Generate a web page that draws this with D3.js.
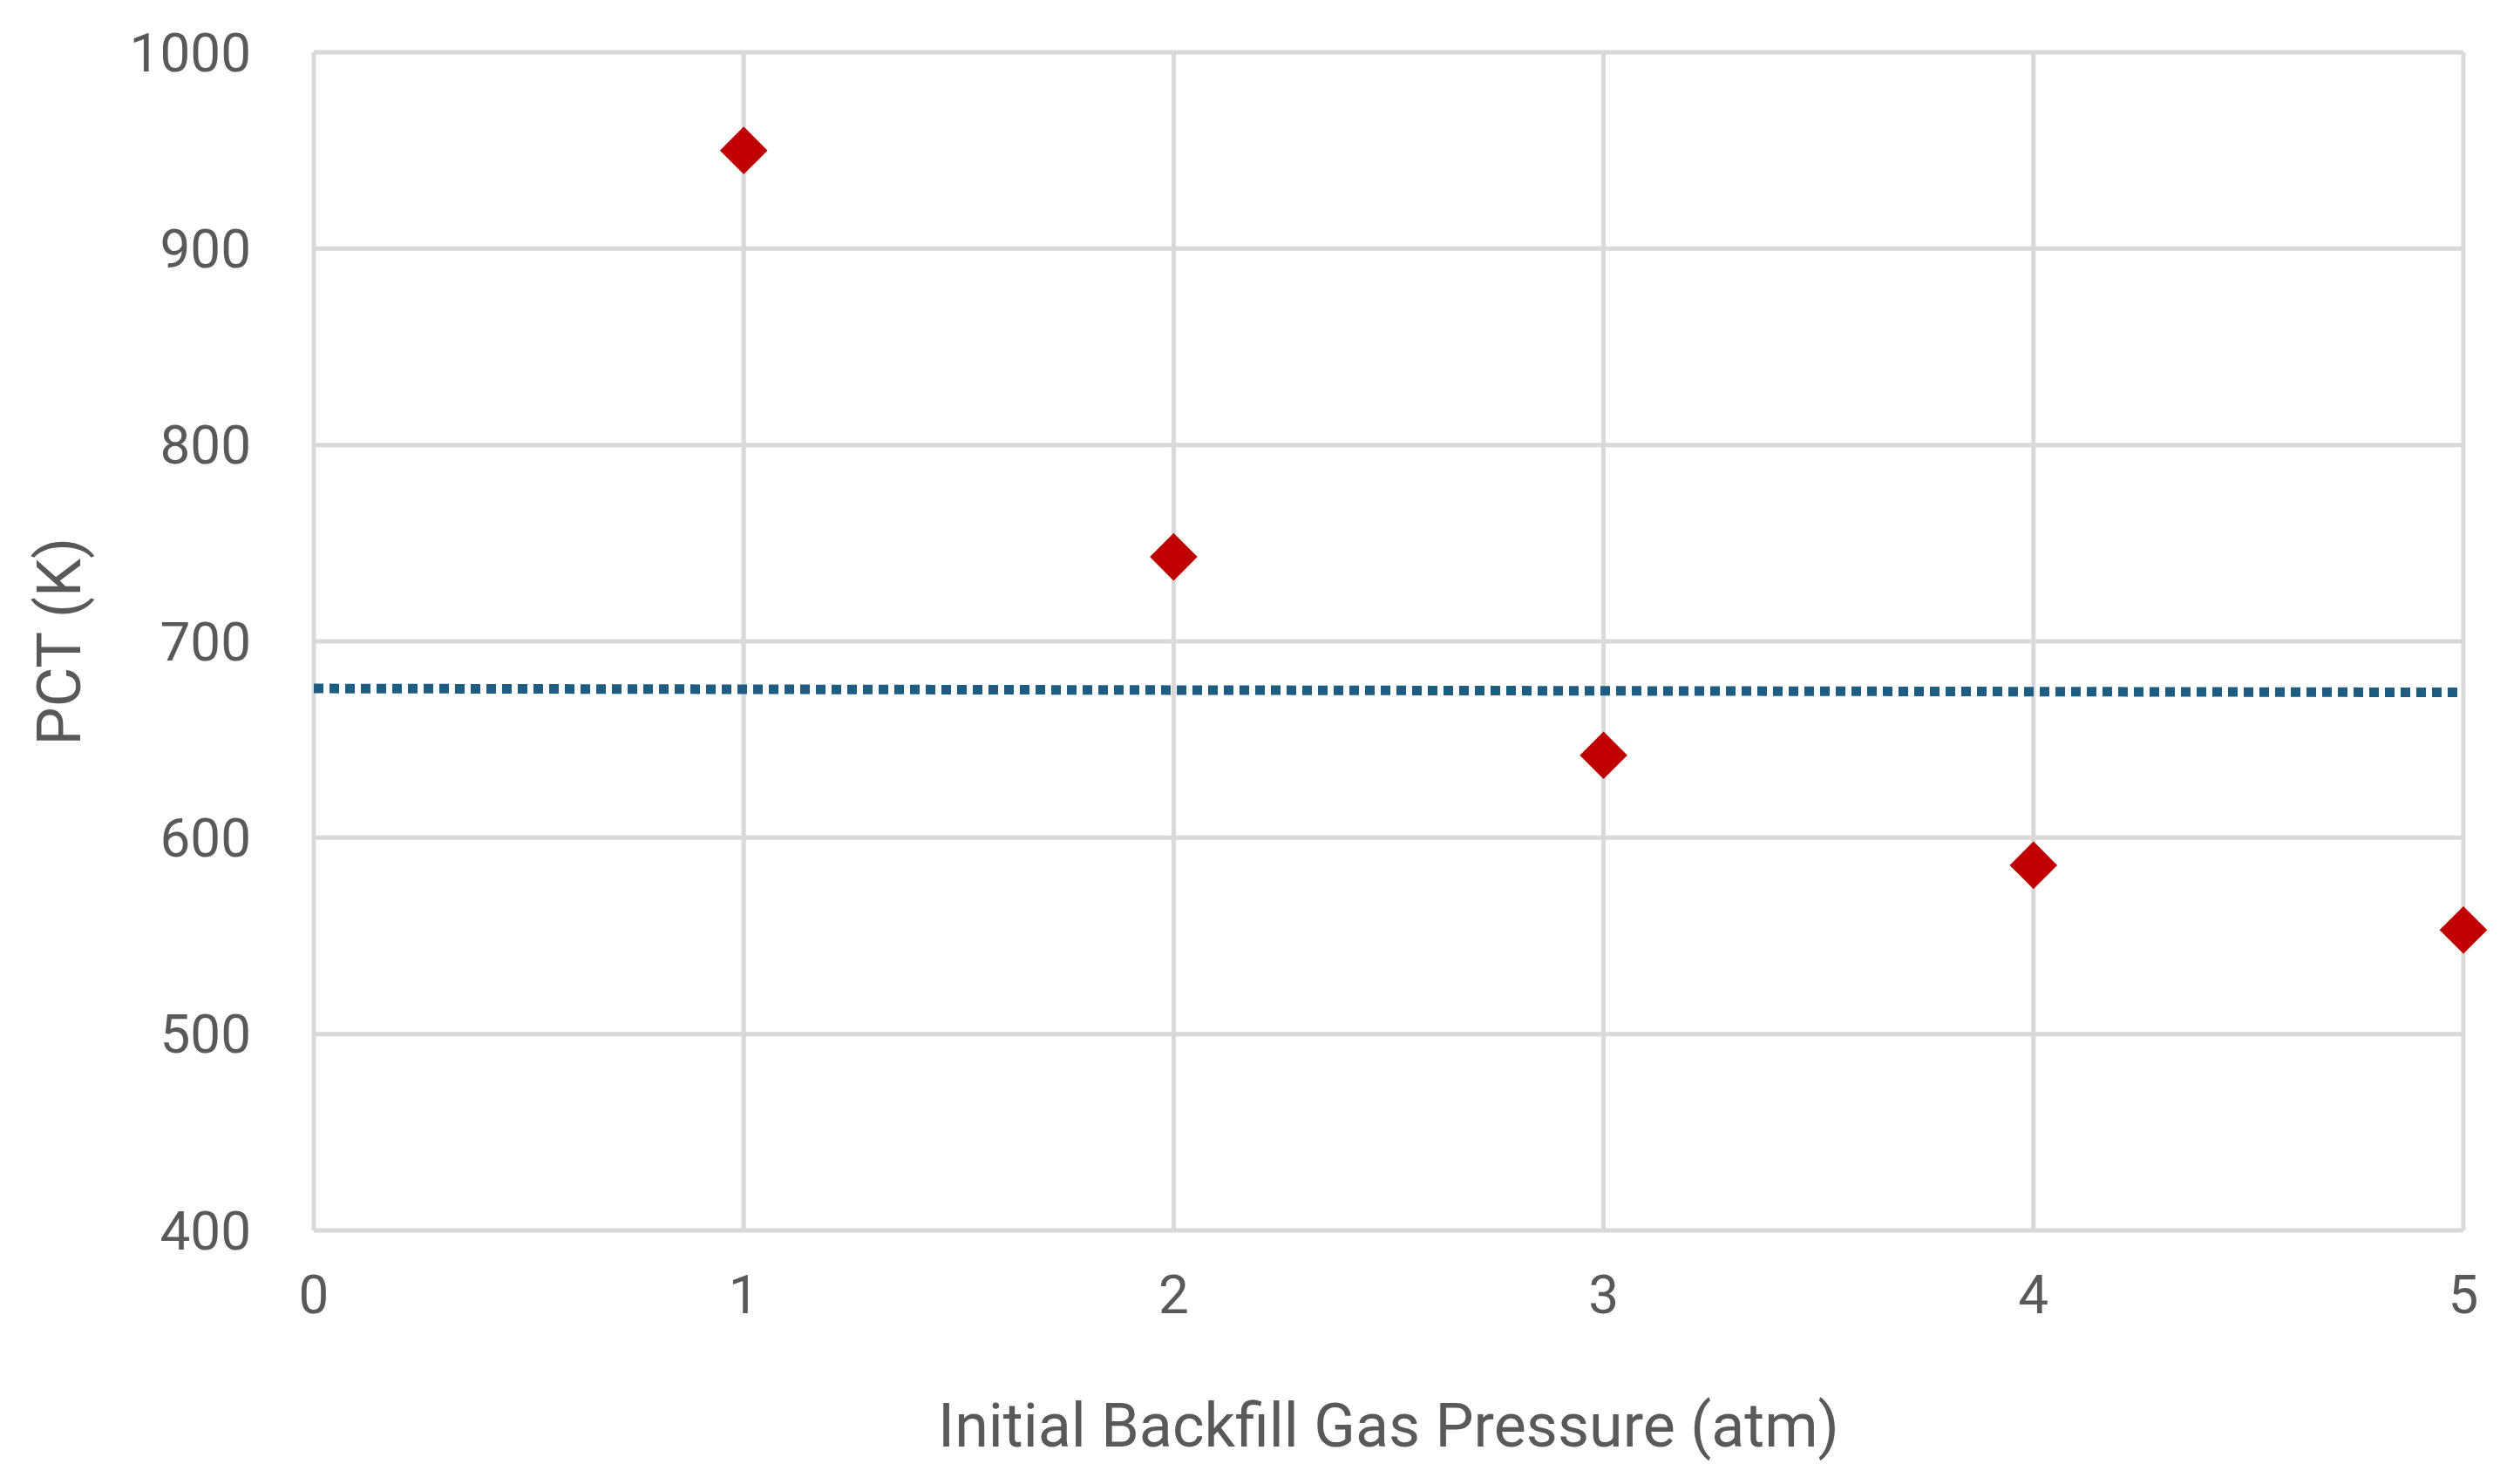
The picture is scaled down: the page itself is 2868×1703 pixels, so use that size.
<!DOCTYPE html>
<html><head><meta charset="utf-8">
<script src="https://cdn.jsdelivr.net/npm/d3@7"></script>
<style>body{margin:0;background:#fff}text{font-family:Roboto,"Open Sans",sans-serif;fill:#595959}</style>
</head><body><svg id="chart"></svg>
<script>
const W = 2868, H = 1703;
const pressure = [1, 2, 3, 4, 5];
const pct = [950, 743, 642, 586, 553];
const limitX = [0, 5];
const limitY = [676, 674];
const xTicks = [0, 1, 2, 3, 4, 5];
const yTicks = [400, 500, 600, 700, 800, 900, 1000];

const margin = {left: 360, right: 42, top: 60, bottom: 291};
const svg = d3.select('#chart').attr('width', W).attr('height', H);
const x = d3.scaleLinear().domain([0, 5]).range([margin.left, W - margin.right]);
const y = d3.scaleLinear().domain([400, 1000]).range([H - margin.bottom, margin.top]);

// grid
svg.append('g').selectAll('line').data(yTicks).join('line')
    .attr('x1', x(0)).attr('x2', x(5))
    .attr('y1', d => y(d)).attr('y2', d => y(d))
    .attr('stroke', '#d9d9d9').attr('stroke-width', 5);
svg.append('g').selectAll('line').data(xTicks).join('line')
    .attr('y1', y(400)).attr('y2', y(1000))
    .attr('x1', d => x(d)).attr('x2', d => x(d))
    .attr('stroke', '#d9d9d9').attr('stroke-width', 5);

// tick labels
svg.append('g').selectAll('text').data(yTicks).join('text')
    .attr('x', x(0) - 72).attr('y', d => y(d)).attr('dy', '0.35em')
    .attr('text-anchor', 'end').attr('font-size', 62).text(d => d);
svg.append('g').selectAll('text').data(xTicks).join('text')
    .attr('x', d => x(d)).attr('y', y(400) + 95)
    .attr('text-anchor', 'middle').attr('font-size', 62).text(d => d);

// axis titles
svg.append('text').attr('x', (x(0) + x(5)) / 2).attr('y', 1660)
    .attr('text-anchor', 'middle').attr('font-size', 70).text('Initial Backfill Gas Pressure (atm)');
svg.append('text').attr('transform', `translate(92,${(y(400) + y(1000)) / 2}) rotate(-90)`)
    .attr('text-anchor', 'middle').attr('font-size', 70).text('PCT (K)');

// dotted limit line
svg.append('path')
    .attr('d', d3.line().x((d, i) => x(limitX[i])).y(d => y(d))(limitY))
    .attr('fill', 'none').attr('stroke', '#1f5c82').attr('stroke-width', 11)
    .attr('stroke-dasharray', '11 7');

// markers
svg.append('g').selectAll('path').data(pct).join('path')
    .attr('transform', (d, i) => `translate(${x(pressure[i])},${y(d)})`)
    .attr('d', d3.symbol(d3.symbolDiamond2, 1900))
    .attr('fill', '#c00000');
</script></body></html>
